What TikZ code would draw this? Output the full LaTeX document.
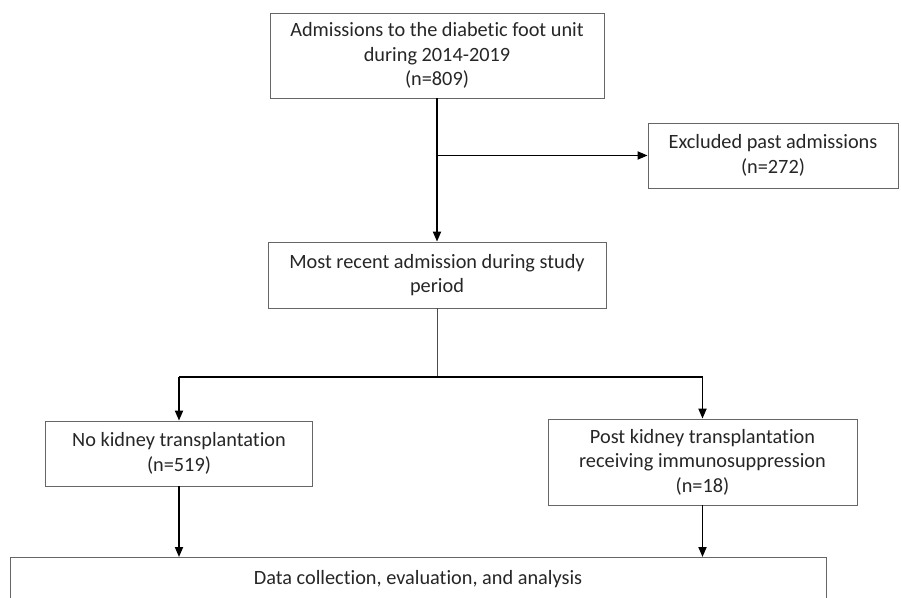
\documentclass[tikz,border=0pt]{standalone}
\usepackage{fontspec}
\setmainfont{Carlito}[Ligatures=NoCommon]
\usetikzlibrary{positioning,arrows.meta}

\tikzset{
  box/.style={draw=black!60, line width=0.8pt, align=center, inner sep=2pt,
              font=\fontsize{20.3}{24.5}\selectfont, text=black!85},
  arr/.style={-{Triangle[length=10pt,width=8pt]}, line width=1.8pt},
  thin line/.style={draw=black!70, line width=0.9pt}
}

\begin{document}
\begin{tikzpicture}[x=1pt, y=1pt]
    \useasboundingbox (0,0) rectangle (901,-597);

    \node[box, minimum width=334pt, minimum height=85pt] (adm) at (437,-55.5) {Admissions to the diabetic foot unit\\ during 2014-2019\\ (n=809)};
    \node[box, minimum width=250pt, minimum height=65pt] (excl) at (773,-155.5) {Excluded past admissions\\ (n=272)};
    \node[box, minimum width=338pt, minimum height=66pt] (recent) at (437,-275) {Most recent admission during study\\ period};
    \node[box, minimum width=267pt, minimum height=65pt] (nokid) at (179,-453.5) {No kidney transplantation\\ (n=519)};
    \node[box, minimum width=309pt, minimum height=86pt] (post) at (702.5,-462) {Post kidney transplantation\\ receiving immunosuppression\\ (n=18)};
    \node[box, minimum width=816pt, minimum height=44pt, anchor=north] (data) at (418,-557) {Data collection, evaluation, and analysis};

    \coordinate (split) at (adm.south |- excl.west);
    \coordinate (fork) at (437,-377);
    \coordinate (forkL) at (nokid.north |- fork);
    \coordinate (forkR) at (post.north |- fork);

    \draw[arr] (adm.south) -- (recent.north);
    \draw[arr] (split) -- (excl.west);

    \draw[thin line] (recent.south) -- (fork);
    \draw[line width=1.3pt] (forkL) -- (forkR);
    \draw[arr] (forkL) -- (nokid.north);
    \draw[arr] (forkR) -- (post.north);

    \draw[arr] (nokid.south) -- (nokid.south |- data.north);
    \draw[arr] (post.south) -- (post.south |- data.north);
\end{tikzpicture}
\end{document}
